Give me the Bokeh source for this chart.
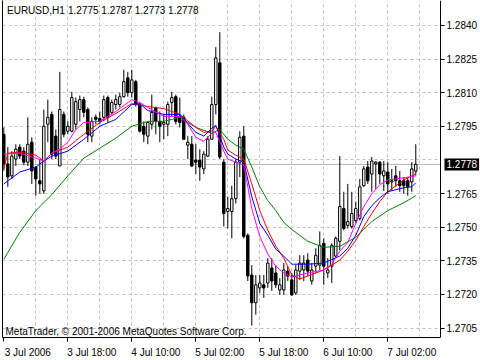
from bokeh.plotting import figure
from bokeh.models import (Range1d, FixedTicker, LinearAxis, Label, Span, BoxAnnotation,
                          ColumnDataSource, PrintfTickFormatter)
from bokeh.embed import file_html
from bokeh.resources import INLINE

# ---------------- data (EURUSD, H1) ----------------
opens = [1.27914, 1.27782, 1.27729, 1.27804, 1.27857, 1.27839, 1.27790, 1.27879, 1.27768, 1.27707,
         1.27662, 1.27959, 1.28003, 1.27906, 1.27773, 1.28003, 1.27928, 1.27928, 1.27959, 1.28025,
         1.28069, 1.28025, 1.27906, 1.27990, 1.27985, 1.27990, 1.28078, 1.28012, 1.28047, 1.28047,
         1.28082, 1.28166, 1.28100, 1.28149, 1.28047, 1.27950, 1.27906, 1.27959, 1.28034, 1.27972,
         1.27959, 1.27959, 1.28056, 1.28082, 1.27994, 1.27990, 1.27866, 1.27870, 1.27799, 1.27799,
         1.27760, 1.27817, 1.27892, 1.28047, 1.28233, 1.27790, 1.27570, 1.27570, 1.27627, 1.27790,
         1.27906, 1.27464, 1.27287, 1.27163, 1.27229, 1.27243, 1.27251, 1.27318, 1.27296, 1.27220,
         1.27220, 1.27304, 1.27265, 1.27207, 1.27304, 1.27309, 1.27353, 1.27260, 1.27326, 1.27331,
         1.27428, 1.27296, 1.27326, 1.27371, 1.27437, 1.27583, 1.27508, 1.27503, 1.27530, 1.27539,
         1.27685, 1.27768, 1.27737, 1.27782, 1.27790, 1.27729, 1.27746, 1.27702, 1.27729, 1.27707,
         1.27707, 1.27707, 1.27702, 1.2775]
highs = [1.27945, 1.27857, 1.27839, 1.27870, 1.27870, 1.27857, 1.27990, 1.27901, 1.27773, 1.27804,
         1.28025, 1.28069, 1.28016, 1.27936, 1.28193, 1.28016, 1.27972, 1.28104, 1.28078, 1.28087,
         1.28082, 1.28034, 1.27990, 1.28003, 1.28016, 1.28087, 1.28087, 1.28069, 1.28091, 1.28100,
         1.28202, 1.28193, 1.28202, 1.28157, 1.28056, 1.27972, 1.27972, 1.28091, 1.28038, 1.28016,
         1.28003, 1.28060, 1.28104, 1.28091, 1.28078, 1.28003, 1.27906, 1.27906, 1.27870, 1.27848,
         1.27839, 1.27906, 1.28082, 1.28303, 1.28370, 1.27804, 1.27636, 1.27685, 1.27804, 1.27928,
         1.27950, 1.27472, 1.27331, 1.27287, 1.27287, 1.27287, 1.27362, 1.27362, 1.27331, 1.27273,
         1.27340, 1.27326, 1.27296, 1.27331, 1.27375, 1.27375, 1.27384, 1.27340, 1.27406, 1.27481,
         1.27450, 1.27362, 1.27428, 1.27459, 1.27817, 1.27658, 1.27693, 1.27658, 1.27614, 1.27715,
         1.27773, 1.27795, 1.27813, 1.27795, 1.27795, 1.27795, 1.27790, 1.27760, 1.27773, 1.27751,
         1.27724, 1.27724, 1.27790, 1.2787]
lows = [1.27751, 1.27680, 1.27715, 1.27773, 1.27804, 1.27777, 1.27773, 1.27693, 1.27640, 1.27649,
        1.27649, 1.27879, 1.27804, 1.27804, 1.27773, 1.27901, 1.27914, 1.27923, 1.27936, 1.27972,
        1.27990, 1.27879, 1.27879, 1.27959, 1.27959, 1.27972, 1.27967, 1.28003, 1.28025, 1.28034,
        1.28078, 1.28082, 1.28078, 1.28038, 1.27923, 1.27879, 1.27870, 1.27936, 1.27914, 1.27879,
        1.27892, 1.27906, 1.27994, 1.27959, 1.27945, 1.27892, 1.27804, 1.27768, 1.27737, 1.27707,
        1.27737, 1.27813, 1.27892, 1.28003, 1.27804, 1.27503, 1.27494, 1.27450, 1.27605, 1.27724,
        1.27450, 1.27260, 1.27061, 1.27110, 1.27207, 1.27185, 1.27229, 1.27216, 1.27229, 1.27198,
        1.27198, 1.27260, 1.27194, 1.27198, 1.27265, 1.27260, 1.27282, 1.27243, 1.27296, 1.27309,
        1.27243, 1.27273, 1.27251, 1.27362, 1.27397, 1.27486, 1.27494, 1.27494, 1.27517, 1.27530,
        1.27680, 1.27693, 1.27658, 1.27671, 1.27693, 1.27662, 1.27649, 1.27662, 1.27680, 1.27658,
        1.27649, 1.27640, 1.27658, 1.2773]
closes = [1.27782, 1.27724, 1.27817, 1.27848, 1.27817, 1.27790, 1.27870, 1.27751, 1.27715, 1.27693,
          1.27950, 1.27990, 1.27826, 1.27817, 1.28025, 1.27914, 1.27950, 1.28078, 1.28060, 1.28069,
          1.28012, 1.27914, 1.27972, 1.27981, 1.27972, 1.28069, 1.27990, 1.28056, 1.28069, 1.28082,
          1.28149, 1.28100, 1.28157, 1.28047, 1.27928, 1.27914, 1.27967, 1.28012, 1.27972, 1.27950,
          1.27967, 1.28047, 1.28078, 1.27972, 1.27967, 1.27892, 1.27879, 1.27773, 1.27790, 1.27768,
          1.27826, 1.27892, 1.28047, 1.28255, 1.27813, 1.27561, 1.27583, 1.27627, 1.27790, 1.27901,
          1.27459, 1.27282, 1.27163, 1.27243, 1.27251, 1.27229, 1.27340, 1.27260, 1.27243, 1.27243,
          1.27309, 1.27282, 1.27198, 1.27309, 1.27340, 1.27340, 1.27304, 1.27309, 1.27375, 1.27419,
          1.27326, 1.27309, 1.27419, 1.27450, 1.27592, 1.27494, 1.27525, 1.27561, 1.27583, 1.27680,
          1.27760, 1.27707, 1.27795, 1.27790, 1.27737, 1.27751, 1.27693, 1.27707, 1.27707, 1.27685,
          1.27685, 1.27680, 1.27760, 1.2778]

# moving averages (bar index, price)
magenta_x = [0, 4, 8, 10, 12, 14, 16, 18, 20, 24, 28, 32, 34, 36, 40, 44, 46, 48, 50, 52,
             53, 55, 56, 58, 60, 62, 64, 66, 68, 70, 72, 76, 80, 82, 84, 86, 88, 90, 92, 94,
             96, 100, 103]
magenta_y = [1.27826, 1.27830, 1.27808, 1.27795, 1.27830, 1.27848, 1.27879, 1.27936, 1.27967, 1.27972,
             1.28016, 1.28069, 1.28056, 1.28034, 1.27994, 1.27994, 1.27959, 1.27901, 1.27883, 1.27919,
             1.27923, 1.27839, 1.27804, 1.27790, 1.27777, 1.27583, 1.27459, 1.27380, 1.27326, 1.27296,
             1.27278, 1.27296, 1.27309, 1.27335, 1.27393, 1.27432, 1.27517, 1.27592, 1.27649, 1.27689,
             1.27711, 1.27720, 1.27729]
blue_x = [0, 4, 8, 10, 12, 16, 20, 24, 28, 32, 34, 36, 40, 44, 48, 50, 52, 53, 55, 56,
          58, 60, 62, 64, 66, 68, 70, 72, 76, 80, 84, 86, 88, 90, 92, 94, 96, 100, 102, 103]
blue_y = [1.27693, 1.27746, 1.27768, 1.27795, 1.27817, 1.27839, 1.27892, 1.27950, 1.27981, 1.28047,
          1.28051, 1.28020, 1.28003, 1.28003, 1.27923, 1.27906, 1.27941, 1.27954, 1.27857, 1.27826,
          1.27804, 1.27790, 1.27636, 1.27517, 1.27464, 1.27402, 1.27371, 1.27335, 1.27335, 1.27340,
          1.27371, 1.27406, 1.27464, 1.27547, 1.27596, 1.27631, 1.27658, 1.27676, 1.27680, 1.27698]
red_x = [0, 1, 4, 8, 10, 12, 16, 20, 24, 28, 32, 36, 40, 44, 48, 50, 52, 53, 55, 56,
         58, 60, 62, 64, 66, 68, 70, 72, 74, 76, 80, 84, 86, 88, 90, 92, 94, 96, 100, 103]
red_y = [1.27760, 1.27830, 1.27835, 1.27821, 1.27795, 1.27830, 1.27857, 1.27914, 1.27967, 1.28007,
         1.28051, 1.28038, 1.28029, 1.28003, 1.27945, 1.27923, 1.27928, 1.27950, 1.27892, 1.27844,
         1.27821, 1.27804, 1.27693, 1.27574, 1.27486, 1.27415, 1.27362, 1.27287, 1.27269, 1.27282,
         1.27309, 1.27353, 1.27393, 1.27441, 1.27503, 1.27561, 1.27614, 1.27658, 1.27711, 1.27737]
green_x = [0, 4, 8, 12, 16, 20, 24, 28, 32, 36, 40, 44, 48, 52, 54, 56, 58, 60, 62, 64,
           66, 68, 70, 72, 76, 80, 84, 88, 92, 96, 100, 103]
green_y = [1.27357, 1.27477, 1.27574, 1.27645, 1.27729, 1.27808, 1.27852, 1.27897, 1.27950, 1.27972,
           1.27972, 1.27990, 1.27945, 1.27919, 1.27936, 1.27892, 1.27866, 1.27848, 1.27768, 1.27680,
           1.27618, 1.27574, 1.27521, 1.27490, 1.27437, 1.27410, 1.27415, 1.27455, 1.27525, 1.27574,
           1.27609, 1.27640]

time_labels = ["3 Jul 2006", "3 Jul 18:00", "4 Jul 10:00", "5 Jul 02:00",
               "5 Jul 18:00", "6 Jul 10:00", "7 Jul 02:00"]
time_label_bars = [0, 16, 32, 48, 64, 80, 96]
price_ticks = [1.2705, 1.2720, 1.2735, 1.2750, 1.2765, 1.2780, 1.2795, 1.2810, 1.2825, 1.2840]
symbol = "EURUSD,H1"

FONT = "Liberation Sans"
FS = "10px"

X0, X_EDGE, X1 = -0.33, 109.18, 119.18      # chart start, price-scale edge, window edge
Y0, Y1 = 1.27008, 1.28511

# ---------------- figure ----------------
p = figure(width=480, height=360, output_backend="svg", toolbar_location=None,
           x_range=Range1d(X0, X1), y_range=Range1d(Y0, Y1),
           y_axis_location="right", min_border_left=2, min_border_right=0,
           min_border_top=0, min_border_bottom=20,
           background_fill_color="white", border_fill_color="white",
           outline_line_color=None)

# grid
p.xgrid.ticker = FixedTicker(ticks=list(range(8, 110, 8)))
p.ygrid.ticker = FixedTicker(ticks=price_ticks)
for g in (p.xgrid[0], p.ygrid[0]):
    g.grid_line_color = "#c0c0c0"
    g.grid_line_dash = "3 3"
    g.grid_line_width = 1

# bottom time axis: labels sit to the right of their tick marks
shift = 6.0
xax = p.xaxis[0]
centers = [b + shift for b in time_label_bars]
xax.ticker = FixedTicker(ticks=centers, minor_ticks=time_label_bars)
xax.major_label_overrides = {c: t for c, t in zip(centers, time_labels)}
xax.bounds = (X0, X_EDGE)
xax.major_tick_out = 0
xax.major_tick_in = 0
xax.minor_tick_out = 4
xax.minor_tick_in = 0
xax.minor_tick_line_color = "black"
xax.axis_line_color = "black"
xax.major_label_standoff = 5
xax.major_label_text_font = FONT
xax.major_label_text_font_size = FS
xax.major_label_text_color = "black"

# price scale on the right edge of the chart
yax = p.yaxis[0]
yax.fixed_location = X_EDGE
yax.ticker = FixedTicker(ticks=[t for t in price_ticks if abs(t - closes[-1]) > 0.0005])
yax.formatter = PrintfTickFormatter(format="%.4f")
yax.major_tick_out = 4
yax.major_tick_in = 0
yax.minor_tick_out = 0
yax.minor_tick_in = 0
yax.major_tick_line_color = "black"
yax.axis_line_color = "black"
yax.major_label_standoff = 2
yax.major_label_text_font = FONT
yax.major_label_text_font_size = FS
yax.major_label_text_color = "black"

# left border line
left = LinearAxis(ticker=FixedTicker(ticks=[]), major_tick_out=0, major_tick_in=0,
                  minor_tick_out=0, minor_tick_in=0, major_label_standoff=0,
                  major_label_text_font_size="0px", axis_line_color="black")
p.add_layout(left, "left")

# current price line, then blank out the price-scale area
p.add_layout(Span(location=closes[-1], dimension="width", line_color="#b4b4b4",
                  line_width=1, level="underlay"))
p.add_layout(BoxAnnotation(left=X_EDGE, fill_color="white", fill_alpha=1.0,
                           line_color=None, level="underlay"))

# candles
idx = list(range(len(closes)))
tops = [max(o, c) for o, c in zip(opens, closes)]
bots = [min(o, c) for o, c in zip(opens, closes)]
fills = ["white" if c >= o else "black" for o, c in zip(opens, closes)]
src = ColumnDataSource(dict(x=idx, o=opens, h=highs, l=lows, c=closes,
                            top=tops, bottom=bots, fill=fills))
p.segment(x0="x", y0="l", x1="x", y1="h", source=src, line_color="black", line_width=1)
p.vbar(x="x", width=0.6, top="top", bottom="bottom", source=src,
       fill_color="fill", line_color="black", line_width=1)

# moving averages
p.line(green_x, green_y, line_color="#008000", line_width=1)
p.line(red_x, red_y, line_color="#ff0000", line_width=1)
p.line(blue_x, blue_y, line_color="#0000ff", line_width=1)
p.line(magenta_x, magenta_y, line_color="#ff00ff", line_width=1)

# header and footer texts
ohlc_text = " ".join(f"{v:.4f}" for v in (opens[-1], highs[-1], lows[-1], closes[-1]))
p.add_layout(Label(x=X0, y=Y1, x_offset=4.5, y_offset=-4, text=symbol,
                   text_font=FONT, text_font_size=FS, text_color="black",
                   text_baseline="top", text_align="left"))
p.add_layout(Label(x=X0, y=Y1, x_offset=65.5, y_offset=-4, text=ohlc_text,
                   text_font=FONT, text_font_size=FS, text_color="black",
                   text_baseline="top", text_align="left"))
p.add_layout(Label(x=X0, y=Y0, x_offset=3, y_offset=1,
                   text="MetaTrader, © 2001-2006 MetaQuotes Software Corp.",
                   text_font=FONT, text_font_size=FS, text_color="black",
                   text_baseline="bottom", text_align="left"))

# current price tag on the price scale
p.add_layout(Label(x=X_EDGE, y=closes[-1], x_offset=4, text=f"{closes[-1]:.4f}",
                   text_font=FONT, text_font_size=FS, text_color="white",
                   text_baseline="middle", text_align="left",
                   background_fill_color="black", padding=2))

open("out.html", "w").write(file_html(p, INLINE))
